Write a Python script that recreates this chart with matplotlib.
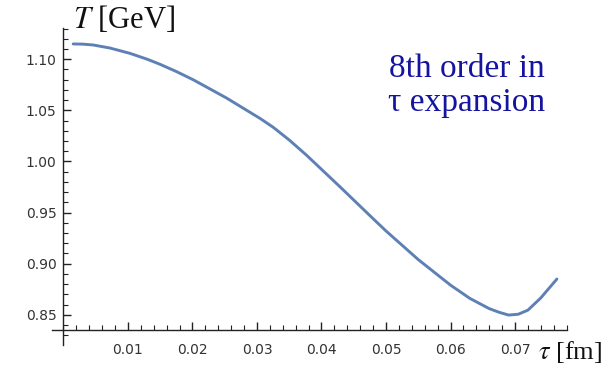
import matplotlib
matplotlib.use("Agg")
import matplotlib.pyplot as plt
from matplotlib.ticker import MultipleLocator, FixedLocator

# curve
tau = [0.0015, 0.0030, 0.0046, 0.0072, 0.0103, 0.0130, 0.0150, 0.0175, 0.0201,
       0.0253, 0.0305, 0.0325, 0.0350, 0.0377, 0.0429, 0.0480, 0.0500, 0.0550,
       0.0600, 0.0630, 0.0660, 0.0675, 0.0690, 0.0705, 0.0720, 0.0740, 0.0765]
T = [1.115, 1.1148, 1.114, 1.111, 1.1058, 1.100, 1.095, 1.088, 1.080,
     1.062, 1.042, 1.0335, 1.021, 1.006, 0.975, 0.944, 0.932, 0.904,
     0.879, 0.866, 0.856, 0.8525, 0.8497, 0.8505, 0.8545, 0.8665, 0.885]
xticks = [0.01, 0.02, 0.03, 0.04, 0.05, 0.06, 0.07]
yticks = [0.85, 0.90, 0.95, 1.00, 1.05, 1.10]

plt.rcParams['mathtext.fontset'] = 'stix'

fig = plt.figure(figsize=(6.15, 3.65), dpi=100)
ax = fig.add_axes([52/615, 20/365, 515/615, 317/365])
ax.set_xlim(-0.00178, 0.07806)
ax.set_ylim(0.8204, 1.1306)

ax.plot(tau, T, color='#5E81B5', lw=2.1, solid_capstyle='round',
        solid_joinstyle='round')

for s in ['top', 'right']:
    ax.spines[s].set_visible(False)
ax.spines['left'].set_position(('data', 0))
ax.spines['bottom'].set_position(('data', 0.835))
for s in ['left', 'bottom']:
    ax.spines[s].set_color('#222222')
    ax.spines[s].set_linewidth(1.0)

ax.xaxis.set_major_locator(FixedLocator(xticks))
ax.xaxis.set_minor_locator(MultipleLocator(0.002))
ax.yaxis.set_major_locator(FixedLocator(yticks))
ax.yaxis.set_minor_locator(MultipleLocator(0.01))
ax.set_xticklabels(['%.2f' % v for v in xticks])
ax.set_yticklabels(['%.2f' % v for v in yticks])
ax.tick_params(which='major', direction='in', length=6, width=1.0, color='#222222',
               labelsize=10, labelcolor='#333333')
ax.tick_params(which='minor', direction='in', length=3.5, width=0.8, color='#222222')
ax.tick_params(axis='x', pad=9)
ax.tick_params(axis='y', pad=5)

fig.text(73/615, 1 - 20/365, r'$T$ [GeV]', fontsize=22, family='Liberation Serif',
         ha='left', va='center', color='#111111')
fig.text(538/615, 1 - 352/365, r'$\tau$ [fm]', fontsize=19, family='Liberation Serif',
         ha='left', va='center', color='#111111')
fig.text(467/615, 1 - 86/365, '8th order in\nτ expansion', fontsize=24,
         family='Liberation Serif', color='#1414A0', ha='center', va='center',
         linespacing=1.15)

fig.savefig('out.png', dpi=100)
